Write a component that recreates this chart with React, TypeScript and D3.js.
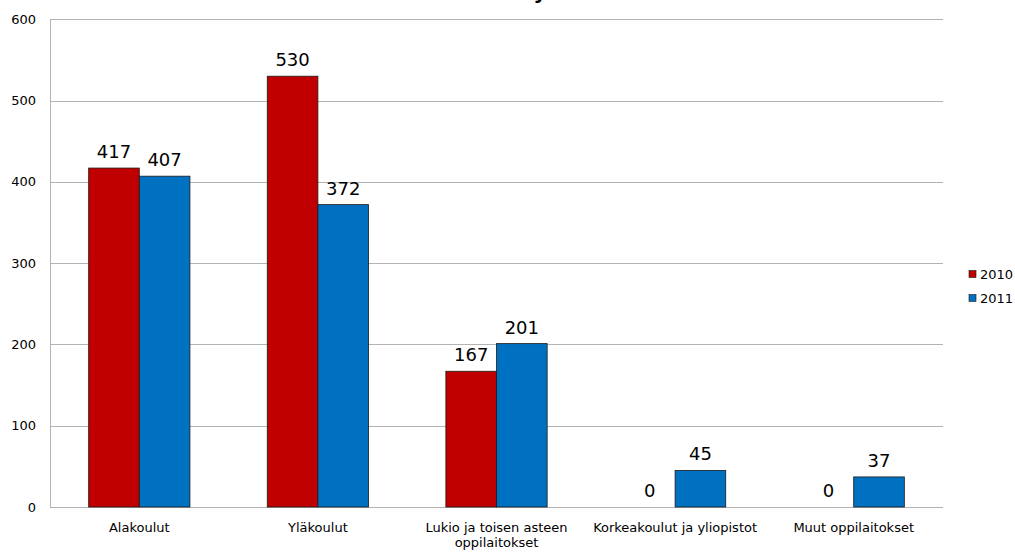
import React from "react";
import * as d3 from "d3";

const categories = [
  ["Alakoulut"],
  ["Yläkoulut"],
  ["Lukio ja toisen asteen", "oppilaitokset"],
  ["Korkeakoulut ja yliopistot"],
  ["Muut oppilaitokset"],
];
const series = ["2010", "2011"];
const values2010 = [417, 530, 167, 0, 0];
const values2011 = [407, 372, 201, 45, 37];
const colors = ["#C00000", "#0070C0"];
const yTicks = [0, 100, 200, 300, 400, 500, 600];

const W = 1015;
const H = 554;
const left = 50;
const right = 943;
const top = 19.3;
const bottom = 507;

export default function App() {
  const x = d3
    .scaleBand<number>()
    .domain(d3.range(categories.length))
    .range([left, right])
    .paddingInner(0)
    .paddingOuter(0);
  const y = d3.scaleLinear().domain([0, 600]).range([bottom, top]);
  const groupW = x.bandwidth() * 0.567;
  const inner = d3
    .scaleBand<number>()
    .domain([0, 1])
    .range([-groupW / 2, groupW / 2]);
  const data = [values2010, values2011];
  const font = "'DejaVu Sans', Verdana, sans-serif";

  return (
    <svg
      width={W}
      height={H}
      style={{ position: "absolute", left: 0, top: 0, background: "#fff" }}
      fontFamily={font}
    >
      <text x={540} y={-1} fontSize={20} fontWeight="bold" textAnchor="middle">
        y
      </text>
      {yTicks.map((t) => (
        <g key={t}>
          <line
            x1={left}
            x2={right}
            y1={Math.round(y(t)) + 0.5}
            y2={Math.round(y(t)) + 0.5}
            stroke="#b3b3b3"
            strokeWidth={1}
          />
          <text
            x={36}
            y={y(t)}
            dy="0.35em"
            fontSize={13}
            textAnchor="end"
            fill="#000"
          >
            {t}
          </text>
        </g>
      ))}
      <line
        x1={left + 0.5}
        x2={left + 0.5}
        y1={top}
        y2={bottom}
        stroke="#b3b3b3"
      />
      {data.map((vals, s) =>
        vals.map((v, i) => {
          const cx = x(i)! + x.bandwidth() / 2;
          const bx = cx + inner(s)!;
          return (
            <g key={s + "-" + i}>
              {v > 0 && (
                <rect
                  x={bx}
                  y={y(v)}
                  width={inner.bandwidth()}
                  height={bottom - y(v)}
                  fill={colors[s]}
                  stroke="#1a1a1a"
                  strokeWidth={0.8}
                />
              )}
              <text
                x={bx + inner.bandwidth() / 2}
                y={y(v) - 10}
                fontSize={18}
                textAnchor="middle"
                fill="#000"
              >
                {v}
              </text>
            </g>
          );
        })
      )}
      {categories.map((lines, i) => (
        <text
          key={"c" + i}
          x={x(i)! + x.bandwidth() / 2}
          y={532}
          fontSize={13}
          textAnchor="middle"
          fill="#000"
        >
          {lines.map((l, j) => (
            <tspan key={j} x={x(i)! + x.bandwidth() / 2} dy={j === 0 ? 0 : 15}>
              {l}
            </tspan>
          ))}
        </text>
      ))}
      {series.map((s, k) => (
        <g key={s} transform={`translate(969, ${274 + k * 24})`}>
          <rect x={0} y={-3.5} width={7} height={7} fill={colors[k]} stroke="#1a1a1a" strokeWidth={0.6} />
          <text x={11} y={0} dy="0.35em" fontSize={13} fill="#000">
            {s}
          </text>
        </g>
      ))}
    </svg>
  );
}
